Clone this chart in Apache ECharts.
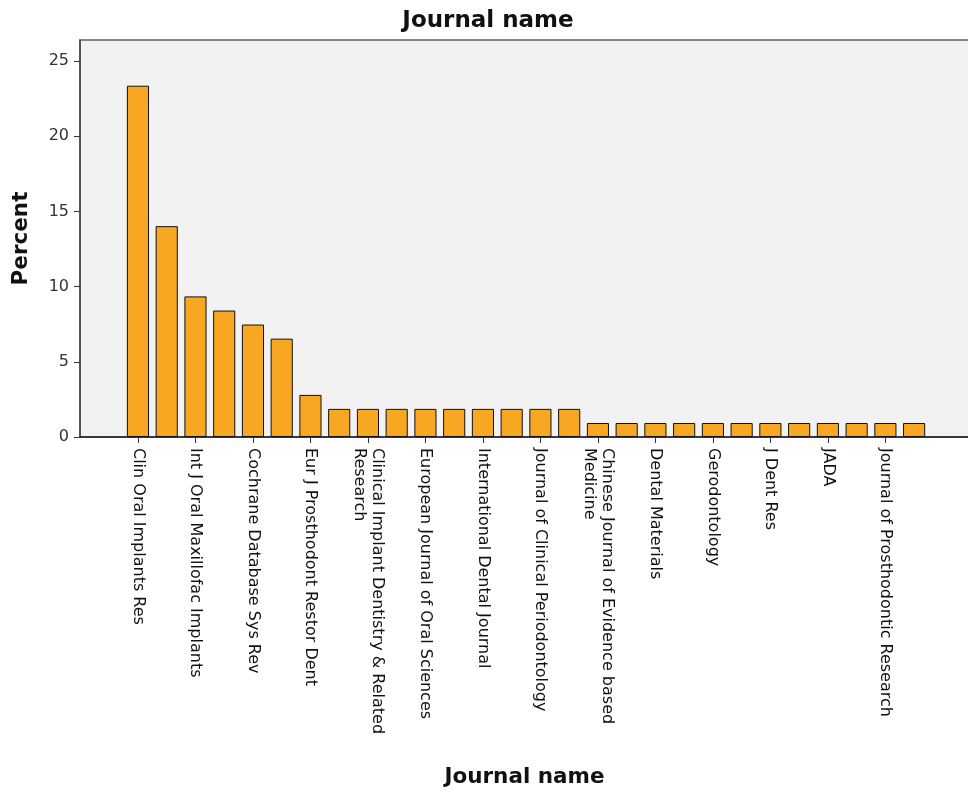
<!DOCTYPE html>
<html>
<head>
<meta charset="utf-8">
<script src="https://cdn.jsdelivr.net/npm/echarts@6/dist/echarts.min.js"></script>
<style>html,body{margin:0;padding:0;background:#fff;}#c{width:968px;height:793px;}</style>
</head>
<body>
<div id="c"></div>
<script>
// Category names (only every other label is visible in the source; hidden ones left blank)
var categories = [
  "Clin Oral Implants Res", "",
  "Int J Oral Maxillofac Implants", "",
  "Cochrane Database Sys Rev", "",
  "Eur J Prosthodont Restor Dent", "",
  "Clinical Implant Dentistry & Related\nResearch", "",
  "European Journal of Oral Sciences", "",
  "International Dental Journal", "",
  "Journal of Clinical Periodontology", "",
  "Chinese Journal of Evidence based\nMedicine", "",
  "Dental Materials", "",
  "Gerodontology", "",
  "J Dent Res", "",
  "JADA", "",
  "Journal of Prosthodontic Research", ""
];
// Percent values
var percents = [
  23.36, 14.02, 9.35, 8.41, 7.48, 6.54, 2.80,
  1.87, 1.87, 1.87, 1.87, 1.87, 1.87, 1.87, 1.87, 1.87,
  0.93, 0.93, 0.93, 0.93, 0.93, 0.93, 0.93, 0.93, 0.93, 0.93, 0.93, 0.93
];
var yTicks = [0, 5, 10, 15, 20, 25];

var FONT = "DejaVu Sans";
var chart = echarts.init(document.getElementById('c'));
chart.setOption({
  animation: false,
  textStyle: { fontFamily: FONT },
  title: {
    text: "Journal name", left: 483, top: 5, textAlign: 'center',
    textStyle: { fontFamily: FONT, fontSize: 23, fontWeight: 'bold', color: '#111' }
  },
  grid: [
    { left: 80, top: 40, right: -1, bottom: 356, outerBoundsMode: 'none', containLabel: false,
      show: true, backgroundColor: '#F2F2F2', borderColor: '#606060', borderWidth: 1.5 },
    { left: 123.6, top: 40, right: 39.5, bottom: 356, outerBoundsMode: 'none', containLabel: false }
  ],
  xAxis: [
    {
      gridIndex: 0, type: 'value', min: 0, max: 1,
      axisLine: { show: true, onZero: false, lineStyle: { color: '#222', width: 1.5 } },
      axisTick: { show: false }, axisLabel: { show: false }, splitLine: { show: false },
      name: "Journal name", nameLocation: 'middle', nameGap: 329,
      nameTextStyle: { fontFamily: FONT, fontSize: 21.5, fontWeight: 'bold', color: '#111' }
    },
    {
      gridIndex: 1, type: 'category', data: categories,
      axisLine: { show: false },
      axisTick: { show: true, interval: 1, alignWithLabel: true, length: 6, lineStyle: { color: '#333' } },
      axisLabel: { interval: 1, rotate: -90, margin: 11, fontFamily: FONT, fontSize: 16, color: '#111', lineHeight: 18 }
    }
  ],
  yAxis: [
    {
      gridIndex: 0, type: 'value', min: 0, max: 26.4,
      axisLine: { show: true, lineStyle: { color: '#444', width: 1.5 } },
      axisTick: { show: true, customValues: yTicks, length: 6, lineStyle: { color: '#333' } },
      axisLabel: { customValues: yTicks, margin: 11, fontFamily: FONT, fontSize: 16, color: '#333' },
      splitLine: { show: false },
      name: "Percent", nameLocation: 'middle', nameGap: 48, nameRotate: 90,
      nameTextStyle: { fontFamily: FONT, fontSize: 21.5, fontWeight: 'bold', color: '#111' }
    },
    {
      gridIndex: 1, type: 'value', min: 0, max: 26.4, show: false, splitLine: { show: false }
    }
  ],
  series: [{
    type: 'bar', xAxisIndex: 1, yAxisIndex: 1, data: percents,
    barCategoryGap: '23%',
    itemStyle: { color: '#F8A722', borderColor: '#111', borderWidth: 1 }
  }]
});
</script>
</body>
</html>
